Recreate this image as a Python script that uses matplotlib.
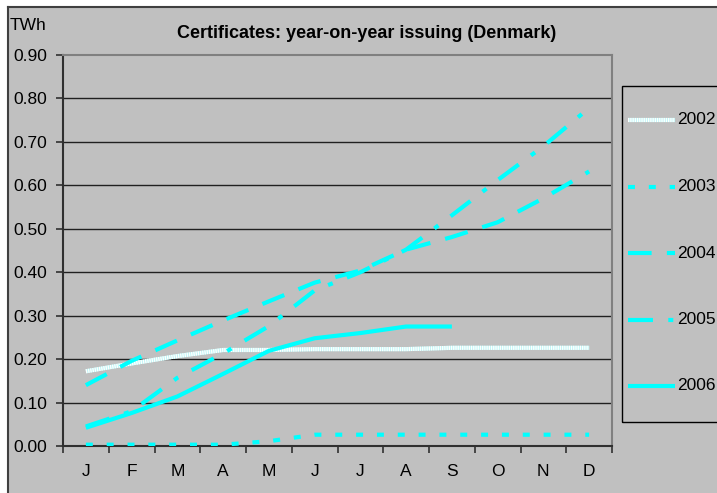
import numpy as np
import matplotlib
matplotlib.use("Agg")
import matplotlib.pyplot as plt
from matplotlib.lines import Line2D
from matplotlib.patches import Rectangle

plt.rcParams['font.family'] = ['Liberation Sans', 'DejaVu Sans']
plt.rcParams['lines.scale_dashes'] = False

months = ['J', 'F', 'M', 'A', 'M', 'J', 'J', 'A', 'S', 'O', 'N', 'D']
y2002 = [0.172, 0.190, 0.207, 0.221, 0.221, 0.223, 0.223, 0.223, 0.226, 0.226, 0.226, 0.226]
y2003 = [0.003, 0.003, 0.003, 0.003, 0.011, 0.026, 0.026, 0.026, 0.026, 0.026, 0.026, 0.026]
y2004 = [0.140, 0.196, 0.243, 0.289, 0.333, 0.376, 0.404, 0.452, 0.481, 0.515, 0.570, 0.632]
y2005 = [0.045, 0.080, 0.157, 0.213, 0.276, 0.358, 0.400, 0.452, 0.531, 0.612, 0.690, 0.778]
y2006 = [0.042, 0.076, 0.114, 0.166, 0.219, 0.248, 0.260, 0.275, 0.275]
years = ['2002', '2003', '2004', '2005', '2006']
yticks = [0.0, 0.1, 0.2, 0.3, 0.4, 0.5, 0.6, 0.7, 0.8, 0.9]

FS = 12.5
W, H = 717, 493
fig = plt.figure(figsize=(W / 100, H / 100), dpi=100)
fig.patch.set_facecolor('#C0C0C0')

# white margin + chart-area border
fig.add_artist(Rectangle((0, 0), 7 / W, 1, transform=fig.transFigure, facecolor='white', edgecolor='none', zorder=0))
fig.add_artist(Rectangle((0, 1 - 6 / H), 1, 6 / H, transform=fig.transFigure, facecolor='white', edgecolor='none', zorder=0))
fig.add_artist(Line2D([7.5 / W, 7.5 / W], [0, 1 - 6.5 / H], transform=fig.transFigure, color='#404040', lw=1.5))
fig.add_artist(Line2D([7.5 / W, 1], [1 - 6.5 / H, 1 - 6.5 / H], transform=fig.transFigure, color='#404040', lw=1.5))

ax = fig.add_axes([63 / W, 1 - 446 / H, (612 - 63) / W, (446 - 55) / H])
ax.set_facecolor('#C0C0C0')
ax.set_xlim(-0.5, 11.5)
ax.set_ylim(0, 0.9)

for v in yticks[1:-1]:
    ax.axhline(v, color='#202020', lw=1.0, zorder=1)

x = np.arange(len(months))
cyan = '#00FFFF'
lw = 3.0

# 2002 : white / light cyan hatched line
ax.plot(x, y2002, color='#B8F6F6', lw=lw, solid_capstyle='butt', zorder=3)
ax.plot(x, y2002, color='white', lw=lw, dashes=(1.0, 0.6), dash_capstyle='butt', zorder=3)
ls2003 = (0, (5.0, 10.0))
ls2004 = (0, (17.0, 11.0))
ls2005 = (0, (18.0, 11.0, 3.6, 11.0))
ax.plot(x, y2003, color=cyan, lw=lw, linestyle=ls2003, dash_capstyle='butt', zorder=3)
ax.plot(x, y2004, color=cyan, lw=lw, linestyle=ls2004, dash_capstyle='butt', zorder=3)
ax.plot(x, y2005, color=cyan, lw=lw, linestyle=ls2005, dash_capstyle='butt', zorder=3)
ax.plot(np.arange(len(y2006)), y2006, color=cyan, lw=lw, solid_capstyle='butt', zorder=3)

# axes spines
for s in ['top', 'right']:
    ax.spines[s].set_color('#808080')
    ax.spines[s].set_linewidth(1.5)
for s in ['left', 'bottom']:
    ax.spines[s].set_color('#303030')
    ax.spines[s].set_linewidth(1.5)

ax.set_yticks(yticks)
ax.set_yticklabels([f'{v:.2f}' for v in yticks], fontsize=FS)
ax.tick_params(axis='y', length=5, width=1.2, color='#303030', pad=6.5)
ax.set_xticks(np.arange(-0.5, 12, 1))
ax.set_xticklabels([''] * 13)
ax.tick_params(axis='x', which='major', length=5, width=1.2, color='#303030')
ax.set_xticks(x, minor=True)
ax.set_xticklabels(months, minor=True, fontsize=FS)
ax.tick_params(axis='x', which='minor', length=0, pad=13)

fig.text(367 / W, 1 - 34 / H, 'Certificates: year-on-year issuing (Denmark)', ha='center', va='center',
         fontsize=13, fontweight='bold')
fig.text(10 / W, 1 - 25 / H, 'TWh', ha='left', va='center', fontsize=FS)

# legend
fig.add_artist(Rectangle((621.5 / W, 1 - 421.5 / H), 200 / W, (421.5 - 85.5) / H, transform=fig.transFigure,
                         facecolor='none', edgecolor='black', lw=1.0))
styles = [dict(color='#B8F6F6', lw=lw), dict(color=cyan, lw=lw, linestyle=ls2003),
          dict(color=cyan, lw=lw, linestyle=ls2004), dict(color=cyan, lw=lw, linestyle=ls2005),
          dict(color=cyan, lw=lw)]
for i, (yr, st) in enumerate(zip(years, styles)):
    yy = 1 - (120 + 66.5 * i) / H
    fig.add_artist(Line2D([628 / W, 675 / W], [yy, yy], transform=fig.transFigure, dash_capstyle='butt',
                          solid_capstyle='butt', **st))
    if i == 0:
        fig.add_artist(Line2D([628 / W, 675 / W], [yy, yy], transform=fig.transFigure, color='white', lw=lw,
                              dashes=(1.0, 0.6), dash_capstyle='butt'))
    fig.text(677 / W, yy, yr, ha='left', va='center', fontsize=FS)

fig.savefig('out.png', dpi=100, facecolor=fig.get_facecolor())
